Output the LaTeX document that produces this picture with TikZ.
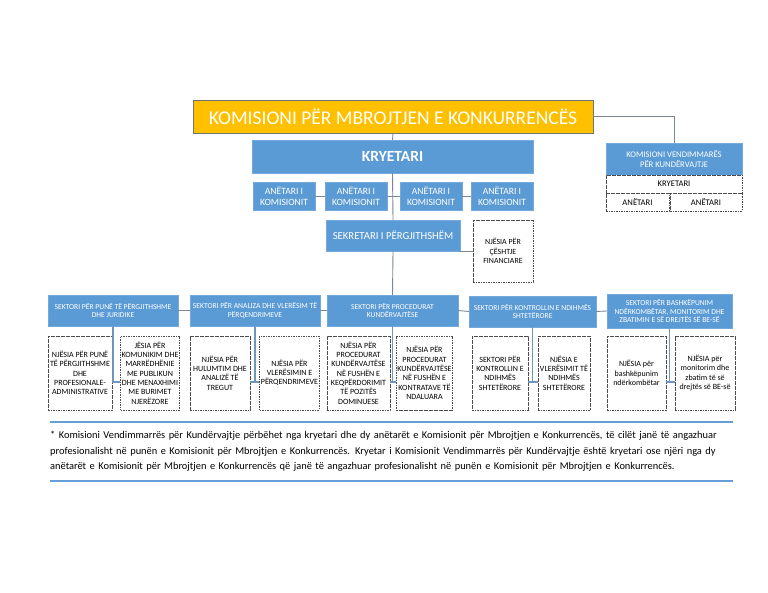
\documentclass[tikz,border=0pt]{standalone}
\usepackage{fontspec}
\setmainfont{Carlito}
\usepackage{tikz}
\usetikzlibrary{calc}

\definecolor{kblue}{RGB}{91,155,213}
\definecolor{korange}{RGB}{255,192,0}
\definecolor{kline}{RGB}{125,135,148}
\definecolor{ksub}{RGB}{110,150,190}
\definecolor{krule}{RGB}{100,160,215}

\tikzset{
  bluebox/.style={draw=kblue!85!white, fill=kblue, text=white, align=center, inner sep=1pt},
  dashbox/.style={draw=black!70, dash pattern=on 1.6pt off 0.9pt, line width=0.8pt, fill=white, align=center, inner sep=1pt},
  sector/.style={bluebox, minimum height=31pt, font=\fontsize{7.6}{8.8}\selectfont},
  unit/.style={dashbox, minimum height=74pt, font=\fontsize{8}{9.3}\selectfont},
  member/.style={bluebox, minimum width=62pt, minimum height=28pt, font=\fontsize{9.6}{10.5}\selectfont},
  link/.style={draw=kline, line width=0.9pt},
  sublink/.style={draw=ksub, line width=1.3pt},
}

\begin{document}
\begin{tikzpicture}[x=1pt,y=-1pt]
    \useasboundingbox (0,0) rectangle (768,593);

    % Top of the chart
    \node[draw=black!55, line width=0.9pt, fill=korange, text=white, minimum width=400pt, minimum height=33pt,
          font=\fontsize{19.5}{21}\selectfont] (title) at (393,116.5) {KOMISIONI PËR MBROJTJEN E KONKURRENCËS};
    \node[bluebox, minimum width=281pt, minimum height=33pt, font=\fontsize{15.5}{17}\selectfont\bfseries] (chair) at (392.5,156.5) {KRYETARI};

    % Members of the commission
    \node[member] (an1) at (284,196) {ANËTARI I\\KOMISIONIT};
    \node[member] (an2) at (356,196) {ANËTARI I\\KOMISIONIT};
    \node[member] (an3) at (431,196) {ANËTARI I\\KOMISIONIT};
    \node[member] (an4) at (502,196) {ANËTARI I\\KOMISIONIT};

    \node[bluebox, minimum width=134pt, minimum height=31pt, font=\fontsize{10.7}{12}\selectfont] (sek) at (393,235.5) {SEKRETARI I PËRGJITHSHËM};
    \node[dashbox, minimum width=60pt, minimum height=62pt, font=\fontsize{7.9}{9.6}\selectfont] (fin) at (503,251) {NJËSIA PËR\\ÇËSHTJE\\FINANCIARE};

    % Decision commission (right)
    \node[bluebox, minimum width=136pt, minimum height=32pt, font=\fontsize{8.6}{10.5}\selectfont] (kvk) at (674,159) {KOMISIONI VENDIMMARËS\\PËR KUNDËRVAJTJE};
    \node[dashbox, minimum width=136pt, minimum height=18pt, font=\fontsize{8.6}{9}\selectfont] (kvkchair) at (674,184) {KRYETARI};
    \node[dashbox, minimum width=63pt, minimum height=18pt, font=\fontsize{8.6}{9}\selectfont] (kvka) at (637.5,202) {ANËTARI};
    \node[dashbox, minimum width=72pt, minimum height=18pt, font=\fontsize{8.6}{9}\selectfont] (kvkb) at (706,202) {ANËTARI};

    % Sectors
    \node[sector, minimum width=130pt] (s1) at (113,310.5) {SEKTORI PËR PUNË TË PËRGJITHSHME\\DHE JURIDIKE};
    \node[sector, minimum width=130pt] (s2) at (255,310.5) {SEKTORI PËR ANALIZA DHE VLERËSIM TË\\PËRQENDRIMEVE};
    \node[sector, minimum width=131pt] (s3) at (392.5,310.5) {SEKTORI PËR PROCEDURAT\\KUNDËRVAJTËSE};
    \node[sector, minimum width=127pt] (s4) at (532.5,311.5) {SEKTORI PËR KONTROLLIN E NDIHMËS\\SHTETËRORE};
    \node[sector, minimum width=125pt, minimum height=34pt] (s5) at (669.5,311) {SEKTORI PËR BASHKËPUNIM\\NDËRKOMBËTAR, MONITORIM DHE\\ZBATIMIN E SË DREJTËS SË BE-SË};

    % Units
    \node[unit, minimum width=64pt] (u1) at (80,373) {NJËSIA PËR PUNË\\TË PËRGJITHSHME\\DHE\\PROFESIONALE-\\ADMINISTRATIVE};
    \node[unit, minimum width=56pt] (u2) at (150,373) {JËSIA PËR\\KOMUNIKIM DHE\\MARRËDHËNIE\\ME PUBLIKUN\\DHE MENAXHIMI\\ME BURIMET\\NJERËZORE};
    \node[unit, minimum width=60pt] (u3) at (220,373) {NJËSIA PËR\\HULUMTIM DHE\\ANALIZË TË\\TREGUT};
    \node[unit, minimum width=55pt] (u4) at (289.5,373) {NJËSIA PËR\\VLERËSIMIN E\\PËRQENDRIMEVE};
    \node[unit, minimum width=63pt] (u5) at (358.5,373) {NJËSIA PËR\\PROCEDURAT\\KUNDËRVAJTËSE\\NË FUSHËN E\\KEQPËRDORIMIT\\TË POZITËS\\DOMINUESE};
    \node[unit, minimum width=55pt] (u6) at (424.5,373) {NJËSIA PËR\\PROCEDURAT\\KUNDËRVAJTËSE\\NË FUSHËN E\\KONTRATAVE TË\\NDALUARA};
    \node[unit, minimum width=56pt] (u7) at (500,373) {SEKTORI PËR\\KONTROLLIN E\\NDIHMËS\\SHTETËRORE};
    \node[unit, minimum width=52pt] (u8) at (564,373) {NJËSIA E\\VLERËSIMIT TË\\NDIHMËS\\SHTETËRORE};
    \node[unit, minimum width=59pt] (u9) at (636.5,373) {NJËSIA për\\bashkëpunim\\ndërkombëtar};
    \node[unit, minimum width=60pt] (u10) at (705,373) {NJËSIA për\\monitorim dhe\\zbatim të së\\drejtës së BE-së};

    % Connectors (top)
    \draw[link] (title.south) -- (chair.north);
    \coordinate (kvkturn) at (kvk.north |- title.east);
    \draw[link] (title.east) -- (kvkturn) -- (kvk.north);
    \draw[link] (chair.south) -- (sek.north);
    \draw[link] (an1.east) -- (an2.west);
    \draw[link] (an2.east) -- (an3.west);
    \draw[link] (an3.east) -- (an4.west);
    \draw[link] (sek.south east) -- (sek.south east -| fin.west);
    \draw[link] (sek.south) -- (s3.north);
    \draw[link] (s1.east) -- (s2.west);
    \draw[link] (s2.east) -- (s3.west);
    \draw[link] (s3.east) -- (s4.west);
    \draw[link] (s4.east) -- (s5.west);

    % Connectors (sectors to units)
    \foreach \s/\a/\b in {s1/u1/u2,s2/u3/u4,s3/u5/u6,s4/u7/u8,s5/u9/u10} {
        \coordinate (j) at ([yshift=-9pt]\a.east);
        \draw[sublink] (j) -- (j -| \b.west);
        \draw[sublink] (\s.south) -- (\s.south |- j);
    }

    % Footnote
    \draw[krule, line width=2.6pt] (50,422) -- (733,422);
    \draw[krule, line width=2.6pt] (50,481) -- (733,481);
    \node[anchor=north west, inner sep=0pt, text width=683pt, align=left, font=\fontsize{10.4}{15.5}\selectfont] (note) at (50,431)
        {\makebox[\linewidth][s]{* Komisioni Vendimmarrës për Kundërvajtje përbëhet nga kryetari dhe dy anëtarët e Komisionit për Mbrojtjen e Konkurrencës, të cilët janë të angazhuar}\\
         \makebox[\linewidth][s]{profesionalisht në punën e Komisionit për Mbrojtjen e Konkurrencës. Kryetar i Komisionit Vendimmarrës për Kundërvajtje është kryetari ose njëri nga dy}\\
         anëtarët e Komisionit për Mbrojtjen e Konkurrencës që janë të angazhuar profesionalisht në punën e Komisionit për Mbrojtjen e Konkurrencës.};

\end{tikzpicture}
\end{document}
